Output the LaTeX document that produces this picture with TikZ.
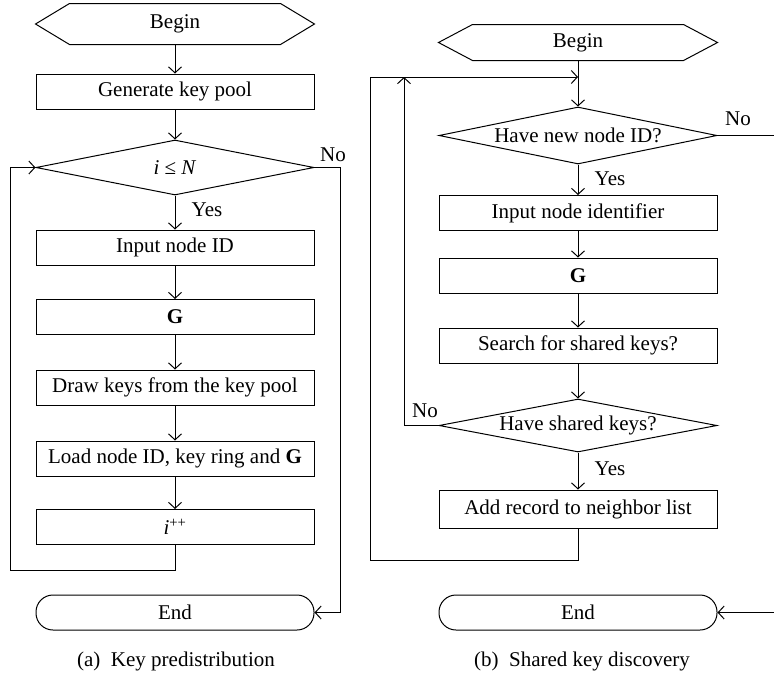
\documentclass[tikz,border=0pt]{standalone}
\usepackage{fontspec}
\setmainfont{Liberation Serif}
\usetikzlibrary{arrows.meta,shapes.geometric}
\begin{document}
\begin{tikzpicture}[x=1pt,y=-1pt, font=\fontsize{21}{25}\selectfont, line width=1pt,
 arr/.style={-{Straight Barb[length=6pt,width=13pt]}},
 proc/.style={draw, rectangle, minimum width=278pt, minimum height=35pt, inner sep=0pt},
 term/.style={draw, rectangle, rounded corners=17pt, minimum width=278pt, minimum height=35pt, inner sep=0pt},
 hexa/.style={rectangle, minimum width=278pt, inner sep=0pt},
 deci/.style={draw, diamond, minimum width=278pt, inner sep=0pt, aspect=5},
 lbl/.style={inner sep=0pt}]
\useasboundingbox (0,0) rectangle (774,673);

% ---------- left flowchart ----------
\node[hexa, minimum height=40pt] (b1) at (175,24) {Begin};
\draw (b1.west) -- ([xshift=34pt]b1.north west) -- ([xshift=-34pt]b1.north east) -- (b1.east)
  -- ([xshift=-34pt]b1.south east) -- ([xshift=34pt]b1.south west) -- cycle;
\node[proc] (gen) at (175,91.5) {Generate key pool};
\node[deci, minimum height=55pt] (d1) at (175,167.5) {\textit{i} ≤ \textit{N}};
\node[proc] (in1) at (175,247.5) {Input node ID};
\node[proc] (g1) at (175,317) {\textbf{G}};
\node[proc] (dr) at (175,387.5) {Draw keys from the key pool};
\node[proc] (ld) at (175,458.5) {Load node ID, key ring and \textbf{G}};
\node[proc] (inc) at (175,527) {\textit{i}\textsuperscript{++}};
\node[term] (e1) at (175,612.5) {End};
\node[lbl] (yes1) at (207,210) {Yes};
\node[lbl] (no1) at (333,155) {No};
\node (capa) at (176,661) {(a)\hspace{0.5em}Key predistribution};

\draw[arr] (b1.south) -- (gen.north);
\draw[arr] (gen.south) -- (d1.north);
\draw[arr] (d1.south) -- (in1.north);
\draw[arr] (in1.south) -- (g1.north);
\draw[arr] (g1.south) -- (dr.north);
\draw[arr] (dr.south) -- (ld.north);
\draw[arr] (ld.south) -- (inc.north);
\coordinate (lb) at (10,570);
\draw[arr] (inc.south) |- (lb) |- (d1.west);
\coordinate (lr) at (340,612.5);
\draw[arr] (d1.east) -| (lr) -- (e1.east);

% ---------- right flowchart ----------
\node[hexa, minimum height=35pt] (b2) at (578,42.5) {Begin};
\draw (b2.west) -- ([xshift=34pt]b2.north west) -- ([xshift=-34pt]b2.north east) -- (b2.east)
  -- ([xshift=-34pt]b2.south east) -- ([xshift=34pt]b2.south west) -- cycle;
\node[deci, minimum height=57pt] (d2) at (578,135.5) {Have new node ID?};
\node[proc] (in2) at (578,213) {Input node identifier};
\node[proc] (g2) at (578,275.5) {\textbf{G}};
\node[proc] (sr) at (578,345.5) {Search for shared keys?};
\node[deci, minimum height=53pt] (d3) at (578,425.5) {Have shared keys?};
\node[proc, minimum height=38pt] (add) at (578,509) {Add record to neighbor list};
\node[term] (e2) at (578,612.5) {End};
\node[lbl] (yes2) at (610,179) {Yes};
\node[lbl] (yes3) at (610,469) {Yes};
\node[lbl] (no2) at (738,119) {No};
\node[lbl] (no3) at (425,411) {No};
\node (capb) at (582,661) {(b)\hspace{0.5em}Shared key discovery};

\coordinate (rj) at (578,77);
\draw[arr] (b2.south) -- (d2.north);
\draw[arr] (d2.south) -- (in2.north);
\draw[arr] (in2.south) -- (g2.north);
\draw[arr] (g2.south) -- (sr.north);
\draw[arr] (sr.south) -- (d3.north);
\draw[arr] (d3.south) -- (add.north);
\coordinate (rb) at (370,560);
\coordinate (rt) at (370,77);
\draw[arr] (add.south) |- (rb) -- (rt) -- (rj);
\coordinate (ri) at (404,77);
\draw[arr] (d3.west) -| (ri);
\coordinate (rno) at (774,135.5);
\draw (d2.east) -- (rno);
\coordinate (rend) at (774,612.5);
\draw[arr] (rend) -- (e2.east);
\end{tikzpicture}
\end{document}
